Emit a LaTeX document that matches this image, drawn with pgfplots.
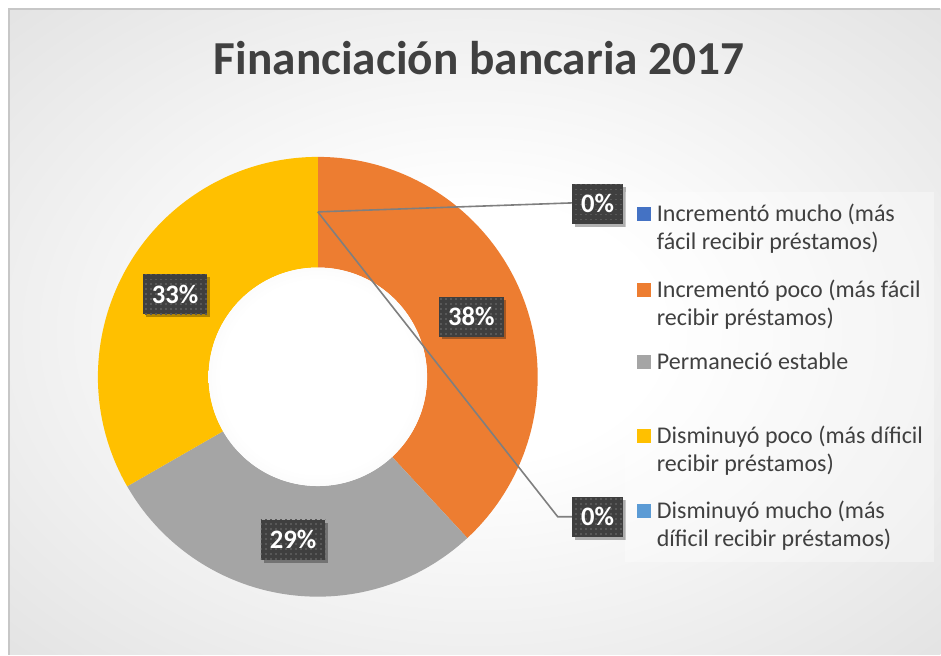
\documentclass[border=0pt]{standalone}
\usepackage{fontspec}
\setmainfont{Carlito}
\usepackage{pgfplots}
\pgfplotsset{compat=1.18}
\usepackage{pgfplotstable}
\usetikzlibrary{patterns,shadows}

\definecolor{cBlue}{HTML}{4472C4}
\definecolor{cOrange}{HTML}{ED7D31}
\definecolor{cGray}{HTML}{A5A5A5}
\definecolor{cYellow}{HTML}{FFC000}
\definecolor{cLBlue}{HTML}{5B9BD5}
\definecolor{txt}{HTML}{404040}
\definecolor{lbl}{HTML}{3F3F3F}
\definecolor{dotc}{HTML}{585858}
\definecolor{lead}{HTML}{7F7F7F}

\pgfdeclareradialshading{bgshade}{\pgfpointorigin}{color(0bp)=(white); color(10bp)=(white); color(50bp)=(black!17); color(72bp)=(black!24)}
\pgfdeclareradialshading{holeshade}{\pgfpointorigin}{color(0bp)=(white); color(22bp)=(white); color(50bp)=(black!12)}
\pgfdeclarepatternformonly{sqdots}{\pgfpoint{-1pt}{-1pt}}{\pgfpoint{4.75pt}{4.75pt}}{\pgfpoint{3.75pt}{3.75pt}}{%
  \pgfpathrectangle{\pgfpoint{0pt}{0pt}}{\pgfpoint{1.4pt}{1.4pt}}\pgfusepath{fill}}

% share of each answer (percent), clockwise from 12 o'clock
\pgfplotstableread{
idx value
0 0
1 38.1
2 28.6
3 33.3
4 0
}\donutdata

\pgfplotstablegetelem{0}{value}\of\donutdata \let\vA\pgfplotsretval
\pgfplotstablegetelem{1}{value}\of\donutdata \let\vB\pgfplotsretval
\pgfplotstablegetelem{2}{value}\of\donutdata \let\vC\pgfplotsretval
\pgfplotstablegetelem{3}{value}\of\donutdata \let\vD\pgfplotsretval
\pgfplotstablegetelem{4}{value}\of\donutdata \let\vE\pgfplotsretval
\pgfmathsetmacro\eA{90-3.6*\vA}
\pgfmathsetmacro\eB{\eA-3.6*\vB}
\pgfmathsetmacro\eC{\eB-3.6*\vC}
\pgfmathsetmacro\eD{\eC-3.6*\vD}
\pgfmathsetmacro\eE{\eD-3.6*\vE}
\pgfmathsetmacro\mB{(\eA+\eB)/2}
\pgfmathsetmacro\mC{(\eB+\eC)/2}
\pgfmathsetmacro\mD{(\eC+\eD)/2}
\def\Ro{165pt}
\def\Ri{82pt}
\def\Rm{123.75pt}

\begin{document}
\begin{tikzpicture}[
  lab/.style={drop shadow={shadow xshift=2.2pt, shadow yshift=-2.2pt, opacity=0.3, fill=black},
    preaction={fill=lbl}, pattern=sqdots, pattern color=dotc,
    text=white, font=\bfseries\fontsize{20pt}{22pt}\selectfont,
    minimum height=30pt, inner xsep=6.75pt, inner ysep=0pt},
  leg/.style={anchor=base west, inner sep=0pt, text=txt, font=\fontsize{18pt}{21pt}\selectfont}
]
\begin{axis}[scale only axis, width=705.75pt, height=491.25pt,
  xmin=0, xmax=941, ymin=0, ymax=655, enlargelimits=false, hide axis, clip=false]
% page
\fill[white] (axis cs:0,0) rectangle (axis cs:941,655);
% chart area
\shade[shading=bgshade] (axis cs:9,0) rectangle (axis cs:941,646);
\draw[color=black!22, line width=0.8pt] (axis cs:9,0) -- (axis cs:9,646) -- (axis cs:941,646);
% title
\node[anchor=base, inner sep=0pt, text=txt, font=\bfseries\fontsize{35.5pt}{38pt}\selectfont]
  at (axis cs:479.5,580) {Financiación bancaria 2017};
% donut
\begin{scope}[shift={(axis cs:318,278)}]
\fill[cOrange] (\eA:\Ro) arc[start angle=\eA, end angle=\eB, radius=\Ro] -- (\eB:\Ri) arc[start angle=\eB, end angle=\eA, radius=\Ri] -- cycle;
\fill[cGray] (\eB:\Ro) arc[start angle=\eB, end angle=\eC, radius=\Ro] -- (\eC:\Ri) arc[start angle=\eC, end angle=\eB, radius=\Ri] -- cycle;
\fill[cYellow] (\eC:\Ro) arc[start angle=\eC, end angle=\eD, radius=\Ro] -- (\eD:\Ri) arc[start angle=\eD, end angle=\eC, radius=\Ri] -- cycle;
\shade[shading=holeshade] (0,0) circle (\Ri);
\end{scope}
% leader lines
\draw[lead, line width=1.2pt] (axis cs:318,443) -- (axis cs:573,452);
\draw[lead, line width=1.2pt] (axis cs:318,443) -- (axis cs:558,138) -- (axis cs:573,138);
% data labels
\begin{scope}[shift={(axis cs:318,278)}]
\node[lab] at (\mB:\Rm) {38\%};
\node[lab] at (\mC:\Rm) {29\%};
\node[lab] at (\mD:\Rm) {33\%};
\end{scope}
\node[lab] at (axis cs:598,451) {0\%};
\node[lab] at (axis cs:598,138) {0\%};
% legend
\fill[white, opacity=0.35] (axis cs:625,93) rectangle (axis cs:935,463);
\fill[cBlue] (axis cs:637,434) rectangle (axis cs:651,448);
\fill[cOrange] (axis cs:637,358) rectangle (axis cs:651,372);
\fill[cGray] (axis cs:637,286) rectangle (axis cs:651,300);
\fill[cYellow] (axis cs:637,212) rectangle (axis cs:651,226);
\fill[cLBlue] (axis cs:637,137) rectangle (axis cs:651,151);
\node[leg] at (axis cs:657,433) {Incrementó mucho (más};
\node[leg] at (axis cs:657,405) {fácil recibir préstamos)};
\node[leg] at (axis cs:657,357) {Incrementó poco (más fácil};
\node[leg] at (axis cs:657,329) {recibir préstamos)};
\node[leg] at (axis cs:657,285) {Permaneció estable};
\node[leg] at (axis cs:657,211) {Disminuyó poco (más díficil};
\node[leg] at (axis cs:657,183) {recibir préstamos)};
\node[leg] at (axis cs:657,136) {Disminuyó mucho (más};
\node[leg] at (axis cs:657,108) {díficil recibir préstamos)};
\end{axis}
\end{tikzpicture}
\end{document}
